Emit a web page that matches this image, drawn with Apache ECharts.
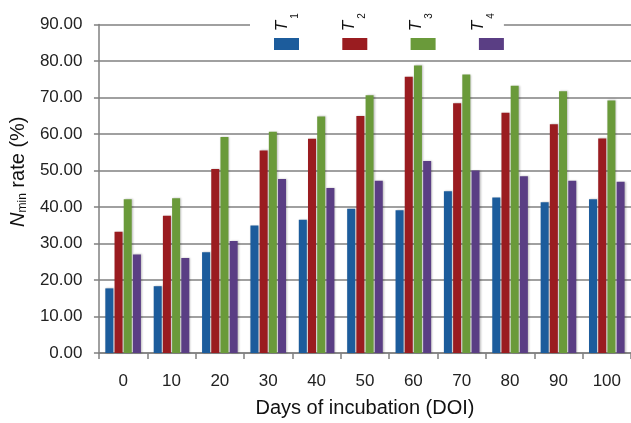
<!DOCTYPE html>
<html>
<head>
<meta charset="utf-8">
<script src="https://cdn.jsdelivr.net/npm/echarts@6/dist/echarts.min.js"></script>
<style>html,body{margin:0;padding:0;background:#fff;}#chart{width:631px;height:423px;}</style>
</head>
<body>
<div id="chart"></div>
<script>
var days = ['0', '10', '20', '30', '40', '50', '60', '70', '80', '90', '100'];
var seriesNames = ['T1', 'T2', 'T3', 'T4'];
var t1 = [17.7, 18.3, 27.6, 34.9, 36.5, 39.5, 39.1, 44.3, 42.6, 41.3, 42.1];
var t2 = [33.2, 37.6, 50.4, 55.5, 58.7, 64.9, 75.7, 68.4, 65.8, 62.7, 58.8];
var t3 = [42.1, 42.4, 59.2, 60.6, 64.8, 70.6, 78.8, 76.3, 73.2, 71.7, 69.2];
var t4 = [27.0, 26.0, 30.7, 47.7, 45.2, 47.2, 52.6, 50.0, 48.4, 47.2, 46.9];
var yTicks = [0, 10, 20, 30, 40, 50, 60, 70, 80, 90];

var colors = ['#1c5c9c', '#9a1c20', '#6a9a3a', '#5a3e84'];
var labelFont = '"Liberation Sans", Arial, sans-serif';
var titleFont = '"Liberation Sans", Arial, sans-serif';

var chart = echarts.init(document.getElementById('chart'), null, {renderer: 'canvas'});

function makeSeries(name, data, i) {
  return {
    name: name,
    type: 'bar',
    data: data,
    barWidth: 8,
    barGap: '15%',
    itemStyle: {
      color: colors[i],
      shadowColor: 'rgba(0,0,0,0.25)',
      shadowBlur: 2,
      shadowOffsetX: 1
    },
    emphasis: {disabled: true}
  };
}

var labelX = [282, 349, 416, 478];
var graphics = [];
for (var k = 0; k < 4; k++) {
  graphics.push({
    type: 'group',
    x: labelX[k],
    y: 26,
    rotation: Math.PI / 2,
    z: 20,
    children: [
      {
        type: 'text', x: 0, y: 0, z: 20,
        style: {text: 'T', font: 'italic 17px ' + titleFont, fill: '#111', align: 'center', verticalAlign: 'middle'}
      },
      {
        type: 'text', x: 10, y: 13, z: 20,
        style: {text: String(k + 1), font: '10px ' + titleFont, fill: '#111', align: 'center', verticalAlign: 'middle'}
      }
    ]
  });
}

var option = {
  backgroundColor: '#ffffff',
  animation: false,
  grid: {left: 97.5, right: -5.5, top: 24.5, bottom: 65, containLabel: false},
  legend: {
    data: seriesNames,
    left: 250,
    top: 10,
    padding: [28, 0, 5, 24],
    backgroundColor: '#ffffff',
    itemWidth: 25,
    itemHeight: 12,
    itemGap: 43.3,
    icon: 'rect',
    formatter: function () { return ''; },
    selectedMode: false
  },
  graphic: {elements: graphics},
  xAxis: {
    type: 'category',
    data: days,
    name: 'Days of incubation (DOI)',
    nameLocation: 'middle',
    nameGap: 45,
    nameTextStyle: {fontFamily: titleFont, fontSize: 20, color: '#111'},
    axisLine: {lineStyle: {color: '#808080', width: 1.5}},
    axisTick: {show: true, length: 6, lineStyle: {color: '#808080', width: 1.5}},
    axisLabel: {fontFamily: labelFont, fontSize: 17, color: '#222', margin: 19.5}
  },
  yAxis: {
    type: 'value',
    min: 0,
    max: 90,
    interval: 10,
    name: '{n|N}{s|min} rate (%)',
    nameLocation: 'middle',
    nameRotate: 90,
    nameGap: 68,
    nameTextStyle: {
      fontFamily: titleFont, fontSize: 20, color: '#111',
      padding: [0, 0, 0, 34],
      rich: {
        n: {fontFamily: titleFont, fontSize: 20, fontStyle: 'italic', color: '#111'},
        s: {fontFamily: titleFont, fontSize: 12, color: '#111', padding: [10, 0, 0, 0]}
      }
    },
    axisLine: {show: true, lineStyle: {color: '#808080', width: 1.5}},
    axisTick: {show: true, length: 5, lineStyle: {color: '#808080', width: 1.5}},
    splitLine: {show: true, lineStyle: {color: '#808080', width: 1.5}},
    axisLabel: {
      fontFamily: labelFont, fontSize: 17, color: '#222', margin: 16.5,
      formatter: function (v) { return yTicks.indexOf(v) >= 0 ? v.toFixed(2) : ''; }
    }
  },
  series: [
    makeSeries(seriesNames[0], t1, 0),
    makeSeries(seriesNames[1], t2, 1),
    makeSeries(seriesNames[2], t3, 2),
    makeSeries(seriesNames[3], t4, 3)
  ]
};
chart.setOption(option);
</script>
</body>
</html>
